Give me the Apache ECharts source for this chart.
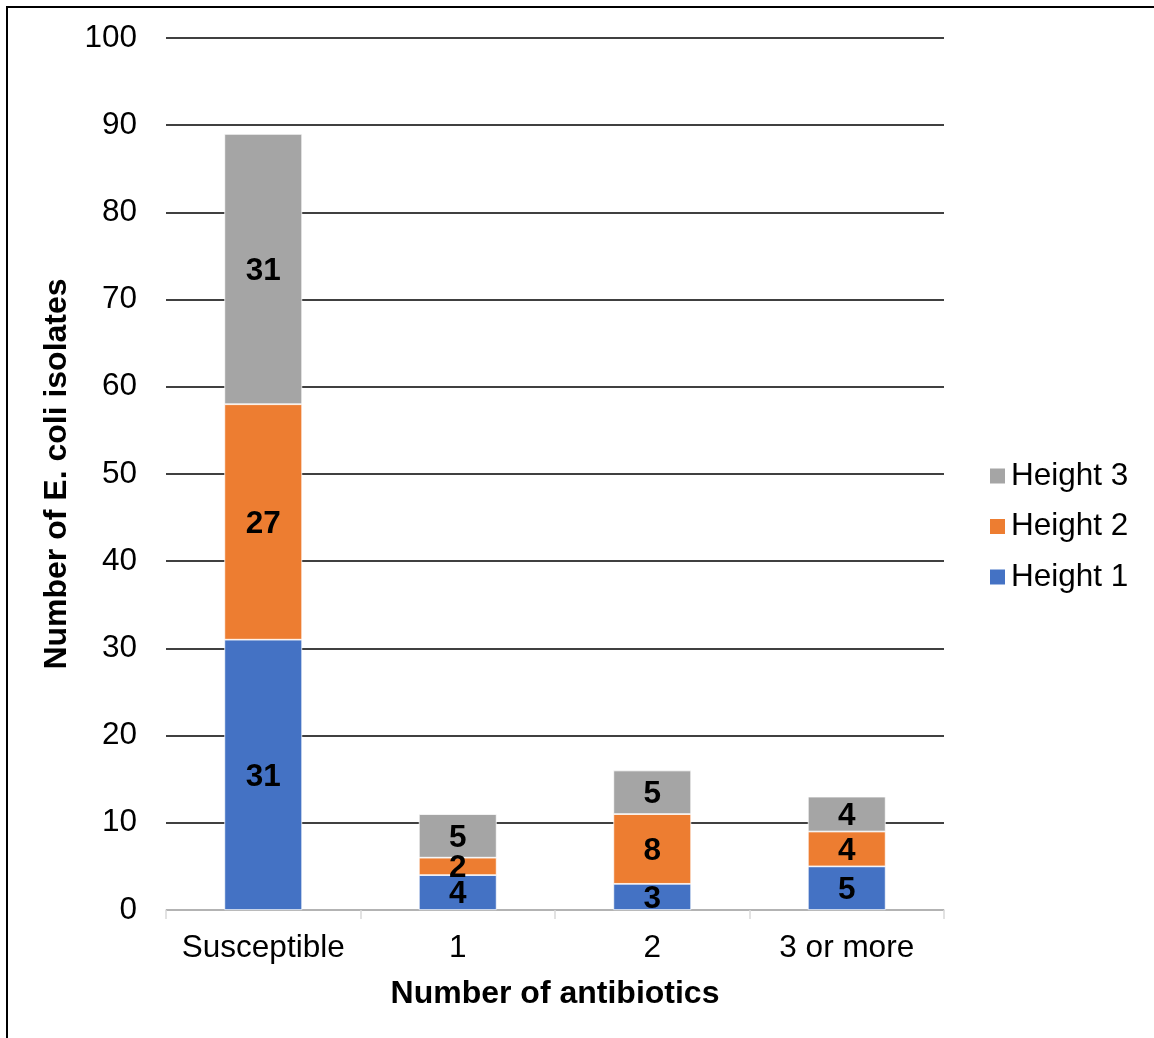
<!DOCTYPE html>
<html>
<head>
<meta charset="utf-8">
<script src="https://cdn.jsdelivr.net/npm/echarts@6/dist/echarts.min.js"></script>
<style>
  html, body { margin: 0; padding: 0; background: #fff; }
  #chart { width: 1154px; height: 1038px; }
</style>
</head>
<body>
<div id="chart"></div>
<script>
// Antibiotic resistance of E. coli isolates by sampling height
const categories = ['Susceptible', '1', '2', '3 or more'];
const height1 = [31, 4, 3, 5];
const height2 = [27, 2, 8, 4];
const height3 = [31, 5, 5, 4];
const yTicks = { min: 0, max: 100, interval: 10 };

const FONT = '"Liberation Sans", Arial, sans-serif';
const TEXT_SIZE = 31.5;
const NAME_SIZE = 32;

const labelStyle = {
  show: true,
  position: 'inside',
  offset: [0, 2],
  color: '#000',
  fontFamily: FONT,
  fontWeight: 'bold',
  fontSize: TEXT_SIZE
};

function stackSeries(name, data, color) {
  return {
    name: name,
    type: 'bar',
    stack: 'total',
    barWidth: '40%',
    data: data,
    itemStyle: { color: color, borderColor: '#fff', borderWidth: 0.75 },
    label: labelStyle,
    emphasis: { disabled: true }
  };
}

const chart = echarts.init(document.getElementById('chart'), null, { renderer: 'canvas' });
chart.setOption({
  animation: false,
  backgroundColor: '#fff',
  graphic: [{
    type: 'rect',
    shape: { x: 7, y: 7, width: 1200, height: 1100 },
    style: { fill: 'none', stroke: '#000', lineWidth: 2 },
    silent: true
  }],
  grid: { left: 166, right: 210, top: 38, bottom: 128 },
  legend: {
    orient: 'vertical',
    left: 988,
    top: 460,
    padding: 0,
    itemWidth: 17,
    itemHeight: 17,
    itemGap: 18.5,
    icon: 'rect',
    data: ['Height 3', 'Height 2', 'Height 1'],
    textStyle: { fontFamily: FONT, fontSize: TEXT_SIZE, color: '#000' }
  },
  xAxis: {
    type: 'category',
    data: categories,
    name: 'Number of antibiotics',
    nameLocation: 'middle',
    nameGap: 68,
    nameTextStyle: { fontFamily: FONT, fontSize: NAME_SIZE, fontWeight: 'bold', color: '#000' },
    axisLine: { lineStyle: { color: '#d9d9d9', width: 1.5 } },
    axisTick: { show: true, length: 9, lineStyle: { color: '#d9d9d9', width: 1.5 } },
    axisLabel: { fontFamily: FONT, fontSize: TEXT_SIZE, color: '#000', margin: 22, interval: 0 }
  },
  yAxis: {
    type: 'value',
    min: yTicks.min,
    max: yTicks.max,
    interval: yTicks.interval,
    name: 'Number of E. coli isolates',
    nameLocation: 'middle',
    nameGap: 90,
    nameTextStyle: { fontFamily: FONT, fontSize: NAME_SIZE, fontWeight: 'bold', color: '#000' },
    axisLine: { show: false },
    axisTick: { show: false },
    axisLabel: { fontFamily: FONT, fontSize: TEXT_SIZE, color: '#000', margin: 29 },
    splitLine: { lineStyle: { color: '#000', width: 1.5 } }
  },
  series: [
    stackSeries('Height 1', height1, '#4472C4'),
    stackSeries('Height 2', height2, '#ED7D31'),
    stackSeries('Height 3', height3, '#A5A5A5')
  ]
});
</script>
</body>
</html>
